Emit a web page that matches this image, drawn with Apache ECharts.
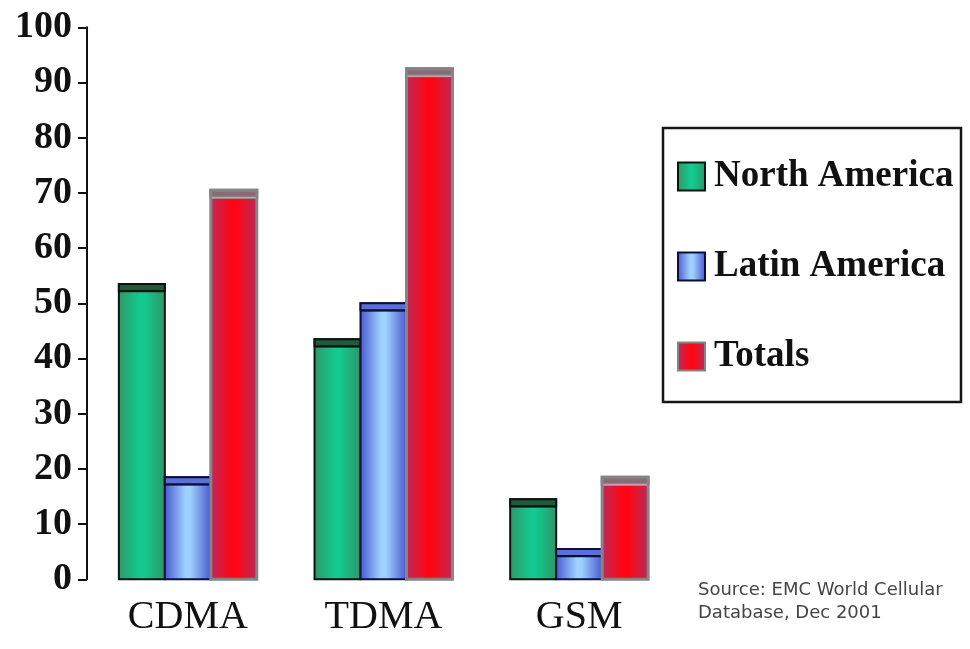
<!DOCTYPE html>
<html>
<head>
<meta charset="utf-8">
<script src="https://cdn.jsdelivr.net/npm/echarts@6/dist/echarts.min.js"></script>
<style>
  html, body { margin: 0; padding: 0; background: #ffffff; }
  #chart { width: 970px; height: 649px; }
</style>
</head>
<body>
<div id="chart"></div>
<script>
// Cellular subscribers by technology (millions)
const categories = ['CDMA', 'TDMA', 'GSM'];
const northAmerica = [53.5, 43.5, 14.5];
const latinAmerica = [18.5, 50, 5.5];
const totals = [70.5, 92.5, 18.5];
const yTicks = [0, 10, 20, 30, 40, 50, 60, 70, 80, 90, 100];
const seriesNames = ['North America', 'Latin America', 'Totals'];

// Visual styles for the three column series
const looks = [
  {
    stops: ['#2f9767', '#13c98f', '#13c98f', '#2e9566'],
    border: '#0c140f', borderWidth: 2,
    band: '#1f5a3b', bandLine: '#0c140f'
  },
  {
    stops: ['#4656cc', '#9fd0ff', '#9fd0ff', '#4555cc'],
    border: '#0b0f3e', borderWidth: 2,
    band: '#5b6fd8', bandLine: '#0b0f3e'
  },
  {
    stops: ['#b92c5c', '#ff0614', '#ff0614', '#b52c5d'],
    border: '#858585', borderWidth: 3,
    band: '#8a6a74', bandLine: '#c8a0aa'
  }
];

const BAR_FRACTION = 0.235;

function hGradient(stops) {
  return {
    type: 'linear', x: 0, y: 0, x2: 1, y2: 0,
    colorStops: [
      { offset: 0, color: stops[0] },
      { offset: 0.45, color: stops[1] },
      { offset: 0.55, color: stops[2] },
      { offset: 1, color: stops[3] }
    ]
  };
}

function columnRenderer(k) {
  const look = looks[k];
  return function (params, api) {
    const cat = api.value(0);
    const val = api.value(1);
    const base = api.coord([cat, 0]);
    const top = api.coord([cat, val]);
    const bw = api.size([1, 0])[0] * BAR_FRACTION;
    const x = base[0] + (k - 1.5) * bw;
    const h = base[1] - top[1];
    const bandH = 7;
    return {
      type: 'group',
      children: [
        {
          type: 'rect',
          shape: { x: x, y: top[1], width: bw, height: h },
          style: {
            fill: hGradient(look.stops),
            stroke: look.border,
            lineWidth: look.borderWidth
          }
        },
        {
          type: 'rect',
          shape: { x: x, y: top[1], width: bw, height: bandH },
          style: { fill: look.band, stroke: look.border, lineWidth: look.borderWidth }
        },
        {
          type: 'line',
          shape: { x1: x + 1, y1: top[1] + bandH + 0.5, x2: x + bw - 1, y2: top[1] + bandH + 0.5 },
          style: { stroke: look.bandLine, lineWidth: 1.5 }
        }
      ]
    };
  };
}

const valueSets = [northAmerica, latinAmerica, totals];

const chart = echarts.init(document.getElementById('chart'));
chart.setOption({
  animation: false,
  backgroundColor: '#ffffff',
  grid: { left: 90, right: 293, top: 27.3, bottom: 69.7, containLabel: false },
  xAxis: {
    type: 'category',
    data: categories,
    axisLine: { show: false },
    axisTick: { show: false },
    axisLabel: {
      margin: 18,
      fontFamily: 'Liberation Serif',
      fontSize: 40,
      color: '#111111'
    }
  },
  yAxis: {
    type: 'value',
    min: yTicks[0],
    max: yTicks[yTicks.length - 1],
    interval: yTicks[1] - yTicks[0],
    offset: 3,
    splitLine: { show: false },
    axisLine: { show: true, lineStyle: { color: '#111111', width: 2 } },
    axisTick: { show: true, length: 9, lineStyle: { color: '#111111', width: 2 } },
    axisLabel: {
      margin: 15,
      fontFamily: 'Liberation Serif',
      fontWeight: 'bold',
      fontSize: 38,
      color: '#111111'
    }
  },
  legend: {
    orient: 'vertical',
    left: 677,
    top: 158,
    padding: 0,
    icon: 'rect',
    itemWidth: 27,
    itemHeight: 28,
    itemGap: 53,
    selectedMode: false,
    textStyle: {
      fontFamily: 'Liberation Serif',
      fontWeight: 'bold',
      fontSize: 37,
      color: '#111111',
      padding: [0, 0, 0, 4]
    },
    data: seriesNames.map((name, k) => ({
      name: name,
      itemStyle: {
        color: hGradient(looks[k].stops),
        borderColor: looks[k].border,
        borderWidth: 2
      }
    }))
  },
  graphic: [
    {
      type: 'rect',
      z: 0,
      shape: { x: 663, y: 128, width: 298, height: 274 },
      style: { fill: '#ffffff', stroke: '#151515', lineWidth: 2.5 }
    },
    {
      type: 'text',
      left: 698,
      top: 579,
      style: {
        text: 'Source: EMC World Cellular\nDatabase, Dec 2001',
        font: '18px "DejaVu Sans"',
        fill: '#454545',
        lineHeight: 23
      }
    }
  ],
  series: seriesNames.map((name, k) => ({
    name: name,
    type: 'custom',
    renderItem: columnRenderer(k),
    encode: { x: 0, y: 1 },
    itemStyle: { color: looks[k].stops[1] },
    data: valueSets[k].map((v, i) => [i, v])
  }))
});
</script>
</body>
</html>
